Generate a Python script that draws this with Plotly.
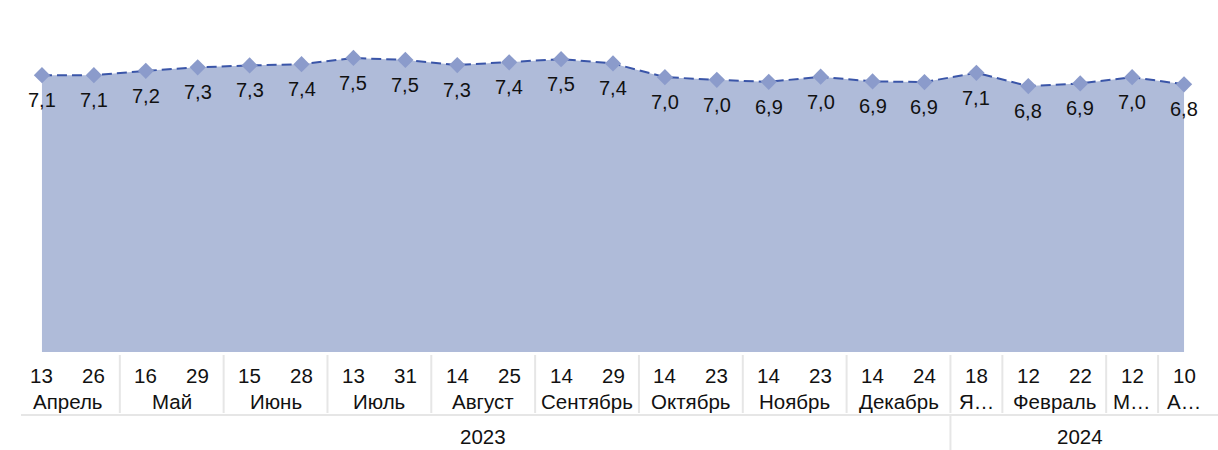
import plotly.graph_objects as go

# Weekly series, April 2023 – April 2024
days = [13, 26, 16, 29, 15, 28, 13, 31, 14, 25, 14, 29, 14, 23, 14, 23, 14, 24, 18, 12, 22, 12, 10]
months = ["Апрель", "Апрель", "Май", "Май", "Июнь", "Июнь", "Июль", "Июль",
          "Август", "Август", "Сентябрь", "Сентябрь", "Октябрь", "Октябрь",
          "Ноябрь", "Ноябрь", "Декабрь", "Декабрь", "Январь", "Февраль", "Февраль",
          "Март", "Апрель"]
years = [2023] * 18 + [2024] * 5
values = [7.08, 7.08, 7.19, 7.28, 7.33, 7.36, 7.52, 7.47, 7.34, 7.41, 7.49, 7.38,
          7.03, 6.96, 6.91, 7.04, 6.92, 6.905, 7.14, 6.80, 6.87, 7.03, 6.845]

W, H = 1218, 450
M_L, M_R, M_T, M_B = 16, 8, 20, 98
PLOT_H = H - M_T - M_B
PLOT_W = W - M_L - M_R

FILL = "#afbbd9"
MARK = "#8b9bcb"
LINE = "#3a55a8"
SEP = "#e6e6e6"
TXT = "#111111"
FONT = "Liberation Sans, Arial, sans-serif"
FS_VAL = 20
FS_AX = 20.5

x = list(range(len(values)))


def py(px):
    """Convert pixel offset below the plot bottom to paper units."""
    return -px / PLOT_H


fig = go.Figure()
fig.add_trace(go.Scatter(
    x=x, y=values,
    mode="lines+markers",
    fill="tozeroy",
    fillcolor=FILL,
    line=dict(color=LINE, width=2, dash="10px,5px"),
    marker=dict(symbol="diamond", size=12.5, color=MARK, line=dict(width=0)),
    hoverinfo="skip",
    cliponaxis=False,
))

annotations = []
shapes = []

# value labels under each point
for i, v in enumerate(values):
    annotations.append(dict(x=i, y=v, xref="x", yref="y", yshift=-25,
                            text=f"{v:.1f}".replace(".", ","), showarrow=False,
                            yanchor="middle",
                            font=dict(family=FONT, size=FS_VAL, color=TXT)))

# day row
for i, d in enumerate(days):
    annotations.append(dict(x=i, y=0, xref="x", yref="paper", yshift=-23,
                            text=str(d), showarrow=False, yanchor="middle",
                            font=dict(family=FONT, size=FS_AX, color=TXT)))

# month row: group consecutive identical (year, month) entries
groups = []
start = 0
for i in range(1, len(x) + 1):
    if i == len(x) or (months[i], years[i]) != (months[start], years[start]):
        groups.append((start, i - 1, months[start]))
        start = i

for gi, (a, b, name) in enumerate(groups):
    label = name if b > a else name[0] + "…"
    annotations.append(dict(x=(a + b) / 2, y=0, xref="x", yref="paper", yshift=-49,
                            text=label, showarrow=False, yanchor="middle",
                            font=dict(family=FONT, size=FS_AX, color=TXT)))
    if gi > 0:
        shapes.append(dict(type="line", xref="x", yref="paper",
                           x0=a - 0.5, x1=a - 0.5, y0=py(3), y1=py(61),
                           line=dict(color=SEP, width=2)))

# horizontal rule below months
shapes.append(dict(type="line", xref="paper", yref="paper",
                   x0=5 / PLOT_W, x1=1 + M_R / PLOT_W, y0=py(63), y1=py(63),
                   line=dict(color=SEP, width=2)))

# year row
ygroups = []
start = 0
for i in range(1, len(x) + 1):
    if i == len(x) or years[i] != years[start]:
        ygroups.append((start, i - 1, years[start]))
        start = i
for gi, (a, b, yr) in enumerate(ygroups):
    annotations.append(dict(x=(a + b) / 2, y=0, xref="x", yref="paper", yshift=-84,
                            text=str(yr), showarrow=False, yanchor="middle",
                            font=dict(family=FONT, size=FS_AX, color=TXT)))
    if gi > 0:
        shapes.append(dict(type="line", xref="x", yref="paper",
                           x0=a - 0.5, x1=a - 0.5, y0=py(64), y1=py(M_B + 5),
                           line=dict(color=SEP, width=2)))

fig.update_layout(
    width=W, height=H,
    margin=dict(l=M_L, r=M_R, t=M_T, b=M_B),
    paper_bgcolor="white", plot_bgcolor="white",
    showlegend=False,
    xaxis=dict(range=[-0.5, len(x) - 0.5], showgrid=False, zeroline=False,
               showticklabels=False, showline=False, fixedrange=True),
    yaxis=dict(range=[0, PLOT_H / 39.1], showgrid=False, zeroline=False,
               showticklabels=False, showline=False, fixedrange=True),
    annotations=annotations,
    shapes=shapes,
    font=dict(family=FONT),
)

fig.write_html("out.html")
